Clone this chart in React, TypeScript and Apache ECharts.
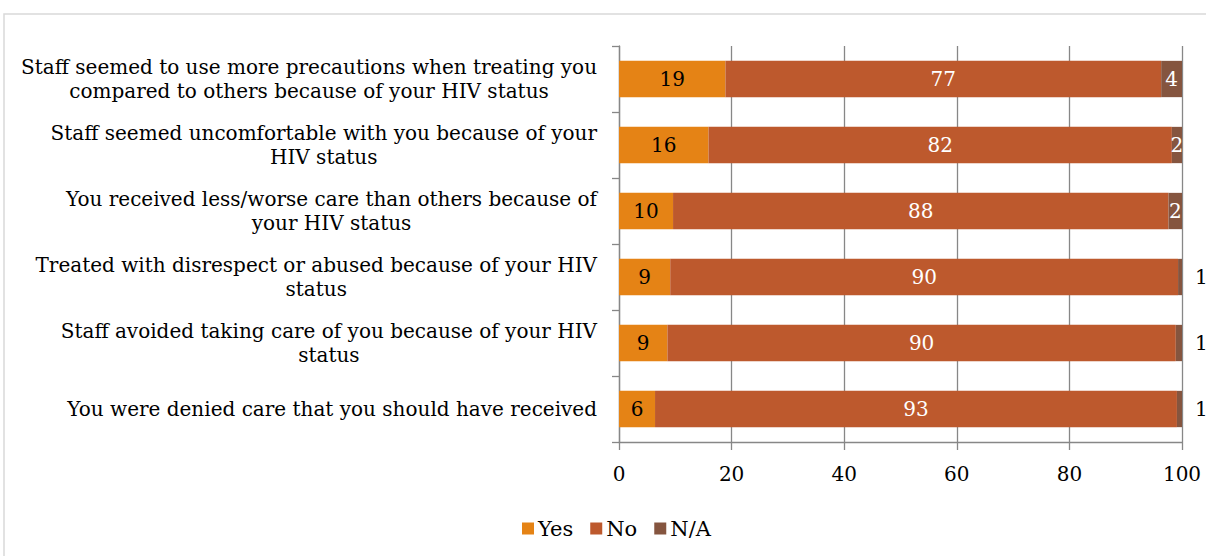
import React, { useEffect, useRef } from "react";
import * as echarts from "echarts";

const categories = [
  "Staff seemed to use more precautions when treating you\ncompared to others because of your HIV status",
  "Staff seemed uncomfortable with you because of your\nHIV status",
  "You received less/worse care than others because of\nyour HIV status",
  "Treated with disrespect or abused because of your HIV\nstatus",
  "Staff avoided taking care of you because of your HIV\nstatus",
  "You were denied care that you should have received",
];
const yesValues = [18.9, 15.9, 9.6, 9.1, 8.6, 6.4];
const noValues = [77.4, 82.3, 88.0, 90.2, 90.3, 92.7];
const naValues = [3.7, 1.8, 2.4, 0.7, 1.1, 0.9];
const seriesNames = ["Yes", "No", "N/A"];
const xTicks = { min: 0, max: 100, interval: 20 };

const FONT = "DejaVu Serif";
const FS = 20;
const GRAY = "#878787";

export default function App() {
  const ref = useRef<HTMLDivElement>(null);
  useEffect(() => {
    if (!ref.current) return;
    const chart = echarts.init(ref.current, null, { renderer: "svg" });
    const fmt = (p: any) => String(Math.round(p.value));
    chart.setOption({
      animation: false,
      textStyle: { fontFamily: FONT },
      graphic: [
        {
          type: "rect",
          shape: { x: 4, y: 14, width: 1400, height: 800 },
          style: { fill: "none", stroke: "#d9d9d9", lineWidth: 1.5 },
          silent: true,
        },
      ],
      grid: { left: 619, top: 46, width: 563, height: 396, containLabel: false },
      legend: {
        data: seriesNames,
        top: 513,
        left: 517,
        padding: 5,
        itemWidth: 12,
        itemHeight: 12,
        itemGap: 17,
        icon: "rect",
        textStyle: { fontFamily: FONT, fontSize: 21, color: "#000", padding: [0, 0, 0, -1] },
      },
      xAxis: {
        type: "value",
        min: xTicks.min,
        max: xTicks.max,
        interval: xTicks.interval,
        axisLine: { show: true, lineStyle: { color: GRAY, width: 1.3 } },
        axisTick: { show: true, length: 8, lineStyle: { color: GRAY, width: 1.3 } },
        splitLine: { show: true, lineStyle: { color: GRAY, width: 1.3 } },
        axisLabel: { color: "#000", fontFamily: FONT, fontSize: FS, margin: 22 },
      },
      yAxis: {
        type: "category",
        inverse: true,
        data: categories,
        axisLine: { show: true, lineStyle: { color: GRAY, width: 1.3 } },
        axisTick: { show: true, length: 7, lineStyle: { color: GRAY, width: 1.3 } },
        axisLabel: {
          margin: 22,
          formatter: (v: string) =>
            v
              .split("\n")
              .map((l) => `{c|${l}}`)
              .join("\n"),
          rich: {
            c: { align: "center", fontFamily: FONT, fontSize: FS, color: "#000", lineHeight: 24 },
          },
        },
      },
      series: [
        {
          name: "Yes",
          type: "bar",
          stack: "total",
          barWidth: "55%",
          data: yesValues,
          itemStyle: { color: "#E58315" },
          label: { show: true, position: "inside", color: "#000", fontFamily: FONT, fontSize: FS, formatter: fmt },
        },
        {
          name: "No",
          type: "bar",
          stack: "total",
          data: noValues,
          itemStyle: { color: "#BD592D" },
          label: { show: true, position: "inside", color: "#fff", fontFamily: FONT, fontSize: FS, formatter: fmt },
        },
        {
          name: "N/A",
          type: "bar",
          stack: "total",
          data: naValues.map((v) =>
            v >= 1.5
              ? { value: v }
              : { value: v, label: { position: "right", distance: 13, color: "#000" } }
          ),
          itemStyle: { color: "#85553F" },
          label: { show: true, position: "inside", color: "#fff", fontFamily: FONT, fontSize: FS, formatter: fmt },
        },
      ],
    });
    return () => chart.dispose();
  }, []);
  return (
    <div
      ref={ref}
      style={{ position: "absolute", left: 0, top: 0, width: 1206, height: 556 }}
    />
  );
}
